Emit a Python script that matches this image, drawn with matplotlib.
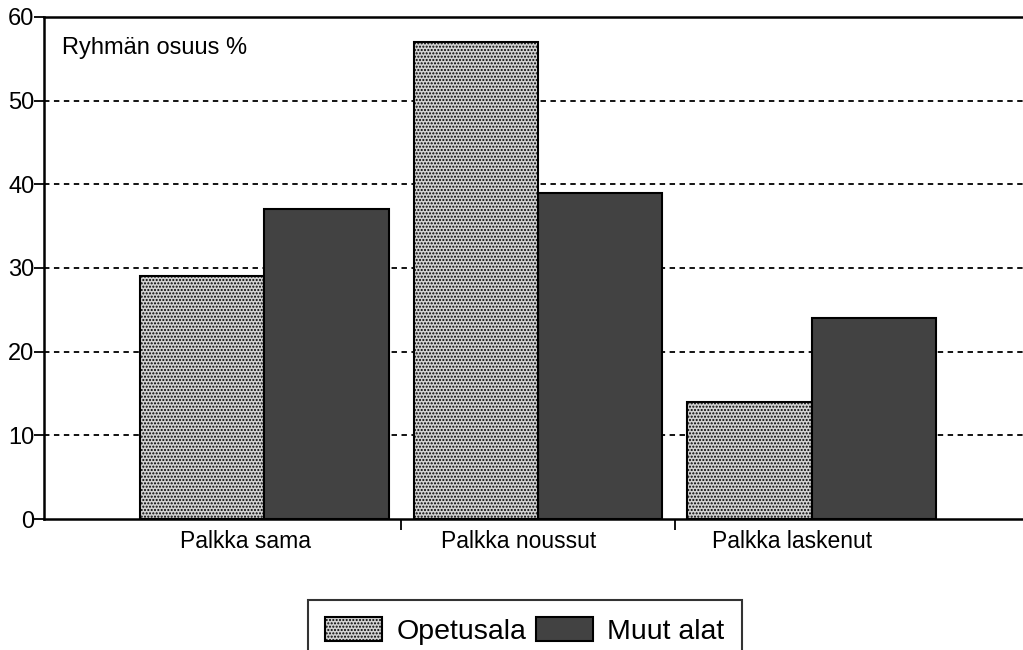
import matplotlib
matplotlib.use("Agg")
import matplotlib.pyplot as plt
import matplotlib.transforms as mtransforms
import numpy as np

plt.rcParams['font.family'] = ['Liberation Sans', 'DejaVu Sans']

categories = ["Palkka sama", "Palkka noussut", "Palkka laskenut"]
opetusala = [29, 57, 14]
muut_alat = [37, 39, 24]
series_names = ["Opetusala", "Muut alat"]
yticks = [0, 10, 20, 30, 40, 50, 60]

fig = plt.figure(figsize=(10.23, 6.5), dpi=100)
ax = fig.add_axes([0.043, 0.2015, 0.957, 0.7725])

x = np.arange(len(categories))
w = 0.455
b1 = ax.bar(x - w / 2, opetusala, w, color='#d2d2d2', edgecolor='black', linewidth=1.5,
            hatch='.....', zorder=3, label=series_names[0])
b2 = ax.bar(x + w / 2, muut_alat, w, color='#424242', edgecolor='black', linewidth=1.5,
            zorder=3, label=series_names[1])

ax.set_xlim(-0.806, 2.773)
ax.set_ylim(0, 60)
ax.set_yticks(yticks)
ax.set_yticklabels([str(v) for v in yticks], fontsize=17)
ax.tick_params(axis='y', direction='out', length=7, width=1.3, pad=0)

ax.set_xticks(x)
ax.set_xticklabels(categories, fontsize=16.5)
ax.tick_params(axis='x', which='major', length=0, pad=8)
ax.set_xticks([0.5, 1.5], minor=True)
ax.tick_params(axis='x', which='minor', direction='out', length=8, width=1.3)

offset = mtransforms.ScaledTranslation(-19 / 100, 0, fig.dpi_scale_trans)
for lbl in ax.get_xticklabels():
    lbl.set_transform(lbl.get_transform() + offset)

for v in yticks[1:-1]:
    ax.axhline(v, color='black', linestyle=(0, (3, 2.5)), linewidth=1.3, zorder=1)

for s in ['left', 'bottom', 'top']:
    ax.spines[s].set_linewidth(1.8)
ax.spines['right'].set_visible(False)

ax.text(0.018, 0.96, "Ryhmän osuus %", transform=ax.transAxes, fontsize=17,
        ha='left', va='top')

leg = fig.legend(handles=[b1, b2], labels=series_names, loc='upper center',
                 bbox_to_anchor=(0.513, 1 - 600 / 650), ncol=2, fontsize=20.5,
                 frameon=True, fancybox=False, edgecolor='black',
                 handlelength=2.0, handleheight=0.9, handletextpad=0.5,
                 columnspacing=0.35, borderpad=0.6, borderaxespad=0)
leg.get_frame().set_linewidth(1.5)

fig.savefig("out.png", dpi=100)
